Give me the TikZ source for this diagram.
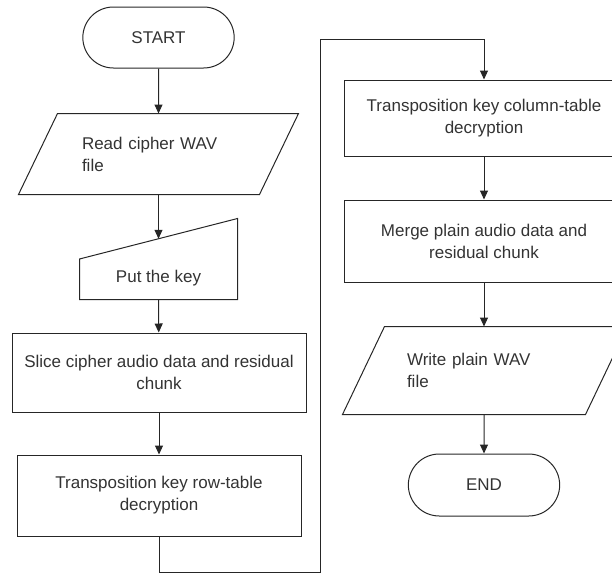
\documentclass[tikz,border=0pt]{standalone}
\usepackage{fontspec}
\setmainfont{Liberation Sans}
\usetikzlibrary{shapes.misc,arrows.meta,calc}
\begin{document}
\begin{tikzpicture}[%
            x=1pt, y=-1pt,
            color=black!85, line width=1pt,
            mytext/.style={text=black!80, font=\fontsize{17}{22}\selectfont},
            myterm/.style={mytext, draw, rounded rectangle, minimum width=158pt, minimum height=61pt},
            mybox/.style={mytext, draw, rectangle, align=center, minimum height=80pt},
            myio/.style={mytext, rectangle, align=left, inner sep=0pt}
        ]
        \tikzset{myarrow/.style={-{Triangle[length=9pt,width=8pt]}}}
        \useasboundingbox (0,0) rectangle (612,573);
        \clip (0,0) rectangle (612,573);

        % left column
        \node [myterm] (start) at (158.5,37.5) {START};
        \node [myio, minimum width=279pt, minimum height=80pt, text width=153pt]
              (read) at (158.5,154) {Read cipher WAV\\file};
        \draw (read.south west) -- ($(read.north west)+(39,0)$) -- (read.north east)
              -- ($(read.south east)+(-39,0)$) -- cycle;
        \node [minimum width=157pt, minimum height=80pt] (key) at (158.5,259) {};
        \draw (key.south west) -- (key.west) -- (key.north east) -- (key.south east) -- cycle;
        \coordinate (keytop) at ($(key.west)!0.5!(key.north east)$);
        \node [mytext] (keytxt) at (158.5,278) {Put the key};
        \node [mybox, minimum width=294pt, minimum height=79pt] (slice) at (159,372.5)
              {Slice cipher audio data and residual\\chunk};
        \node [mybox, minimum width=284pt, minimum height=81pt] (row) at (159,495.5)
              {Transposition key row-table\\decryption};

        % right column
        \node [mybox, minimum width=280pt, minimum height=76pt] (column) at (484,118)
              {Transposition key column-table\\decryption};
        \node [mybox, minimum width=280pt, minimum height=82pt] (merge) at (484,241)
              {Merge plain audio data and\\residual chunk};
        \node [myio, minimum width=284pt, minimum height=87pt, text width=156pt]
              (write) at (485,370.5) {Write plain WAV\\file};
        \draw (write.south west) -- ($(write.north west)+(42,0)$) -- (write.north east)
              -- ($(write.south east)+(-42,0)$) -- cycle;
        \node [myterm, minimum height=62pt] (end) at (484,485) {END};

        % connectors
        \draw [myarrow] (start) -- (start |- read.north);
        \draw [myarrow] (read.south -| keytop) -- (keytop);
        \draw [myarrow] (key.south) -- (slice);
        \draw [myarrow] (slice) -- (row);
        \coordinate (lowturn) at (320,572);
        \coordinate (highturn) at (320,39);
        \draw [myarrow] (row.south) |- (lowturn) -- (highturn) -| (column.north);
        \draw [myarrow] (column) -- (merge);
        \draw [myarrow] (merge.south) -- (merge.south |- write.north);
        \draw [myarrow] (end |- write.south) -- (end);
\end{tikzpicture}
\end{document}
